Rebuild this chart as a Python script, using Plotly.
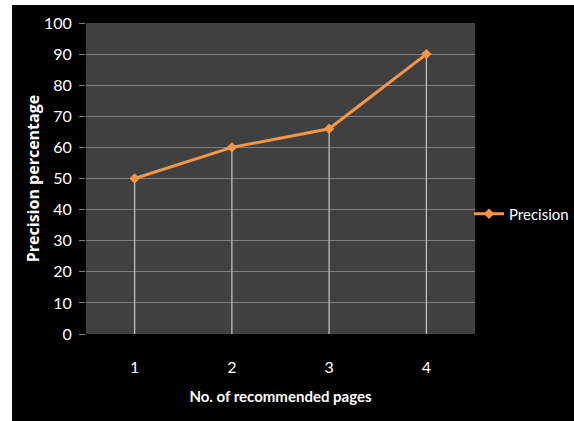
import plotly.graph_objects as go

pages = [1, 2, 3, 4]
precision = [50, 60, 66, 90]
y_ticks = list(range(0, 101, 10))

W, H = 574, 421
L, R, T, B = 86, 99, 23, 87
pw, ph = W - L - R, H - T - B

def px_x(p):
    return (p - L) / pw

def px_y(p):
    return (H - B - p) / ph

# drop lines from each point to the axis
dx, dy = [], []
for x, y in zip(pages, precision):
    dx += [x, x, None]
    dy += [0, y, None]

fig = go.Figure()
fig.add_trace(go.Scatter(x=dx, y=dy, mode="lines",
                         line=dict(color="#c8c8c8", width=1.2),
                         showlegend=False, hoverinfo="skip"))
fig.add_trace(go.Scatter(x=pages, y=precision, mode="lines+markers", name="Precision",
                         line=dict(color="#F79646", width=3),
                         marker=dict(symbol="diamond", size=8, color="#F79646")))

# white outer strips (top and left)
fig.add_shape(type="rect", xref="paper", yref="paper",
              x0=px_x(-5), x1=px_x(12), y0=px_y(430), y1=px_y(-5),
              fillcolor="white", line=dict(width=0), layer="above")
fig.add_shape(type="rect", xref="paper", yref="paper",
              x0=px_x(-5), x1=px_x(580), y0=px_y(5), y1=px_y(-5),
              fillcolor="white", line=dict(width=0), layer="above")

font = "Lato"
fig.update_layout(
    width=W, height=H,
    margin=dict(l=L, r=R, t=T, b=B, autoexpand=False),
    paper_bgcolor="black",
    plot_bgcolor="#404040",
    font=dict(family=font, color="white", size=16),
    showlegend=True,
    legend=dict(x=px_x(469), y=px_y(214), xanchor="left", yanchor="middle",
                itemwidth=30, bgcolor="rgba(0,0,0,0)", font=dict(size=15, color="white")),
    xaxis=dict(range=[0.5, 4.5], tickvals=pages, ticktext=[str(p) for p in pages],
               showgrid=False, zeroline=False, showline=False, ticks="",
               ticklabelstandoff=22,
               title=dict(text="<b>No. of recommended pages</b>", font=dict(size=15, color="white"), standoff=16)),
    yaxis=dict(range=[0, 100], tickvals=y_ticks, showgrid=True, gridcolor="#808080", gridwidth=1.2,
               zeroline=False, showline=False, ticks="outside", ticklen=6, tickcolor="#808080",
               ticklabelstandoff=4,
               title=dict(text="<b>Precision percentage</b>",
                          font=dict(family="Open Sans", size=16, color="white"), standoff=0)),
)

fig.write_html("out.html")
